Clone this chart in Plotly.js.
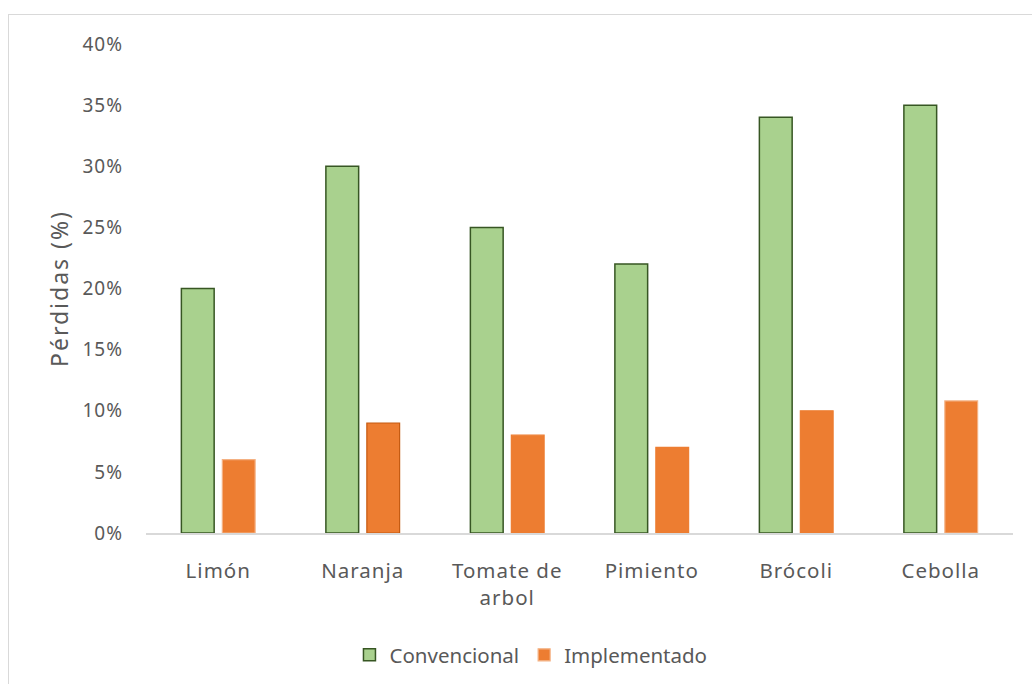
<!DOCTYPE html>
<html>
<head>
<meta charset="utf-8">
<script src="https://cdn.plot.ly/plotly-3.0.1.min.js"></script>
<style>
  html, body { margin: 0; padding: 0; background: #fff; overflow: hidden; }
  #frame { position: absolute; left: 8px; top: 14px; width: 1100px; height: 800px;
           border-left: 1px solid #d9d9d9; border-top: 1px solid #d9d9d9; box-sizing: border-box; pointer-events: none; }
  #chart { position: absolute; left: 0; top: 0; width: 1032px; height: 684px; }
  #chart .xtick text, #chart .ytick text { letter-spacing: 1px; }
  #chart .ytitle { letter-spacing: 2px; }
</style>
</head>
<body>
<div id="chart"></div>
<div id="frame"></div>
<script>
const categories = ["Limón", "Naranja", "Tomate de<br>arbol", "Pimiento", "Brócoli", "Cebolla"];
const convencional = [0.20, 0.30, 0.25, 0.22, 0.34, 0.35];
const implementado = [0.06, 0.09, 0.08, 0.07, 0.10, 0.108];
const seriesNames = ["Convencional", "Implementado"];
const yTickVals = [0, 0.05, 0.10, 0.15, 0.20, 0.25, 0.30, 0.35, 0.40];

const font = "Noto Sans, Open Sans, sans-serif";
const textColor = "#595959";
const orangeOutline = ["#f4b183", "#c55a11", "#ed7d31", "#ed7d31", "#ed7d31", "#f4b183"];

const traces = [
  {
    type: "bar", name: seriesNames[0], x: categories, y: convencional,
    marker: { color: "#a9d18e", line: { color: "#375623", width: 1.5 } }
  },
  {
    type: "bar", name: seriesNames[1], x: categories, y: implementado,
    marker: { color: "#ed7d31", line: { color: orangeOutline, width: 1.2 } }
  }
];

const layout = {
  width: 1032, height: 684,
  margin: { l: 146, r: 19, t: 44, b: 151, autoexpand: false },
  paper_bgcolor: "#fff", plot_bgcolor: "#fff",
  barmode: "group", bargap: 0.433, bargroupgap: 0.2,
  font: { family: font, color: textColor, size: 19 },
  xaxis: {
    type: "category", showline: true, linecolor: "#d9d9d9", linewidth: 1.5,
    showgrid: false, zeroline: false, ticks: "",
    ticklabelstandoff: 19,
    tickfont: { family: font, size: 20.5, color: textColor }
  },
  yaxis: {
    range: [0, 0.40], tickvals: yTickVals, tickformat: ".0%",
    showgrid: false, zeroline: false, showline: false, ticks: "",
    ticklabelstandoff: 22,
    tickfont: { family: font, size: 19, color: textColor },
    title: { text: "Pérdidas (%)", font: { family: font, size: 23, color: textColor }, standoff: 10 }
  },
  showlegend: true,
  legend: {
    orientation: "h", xref: "container", yref: "container",
    x: 0.5145, xanchor: "center", y: 0.0424, yanchor: "middle",
    font: { family: font, size: 20.5, color: textColor }, traceorder: "normal",
    itemwidth: 30
  }
};

Plotly.newPlot("chart", traces, layout, { displayModeBar: false, staticPlot: true });
</script>
</body>
</html>
